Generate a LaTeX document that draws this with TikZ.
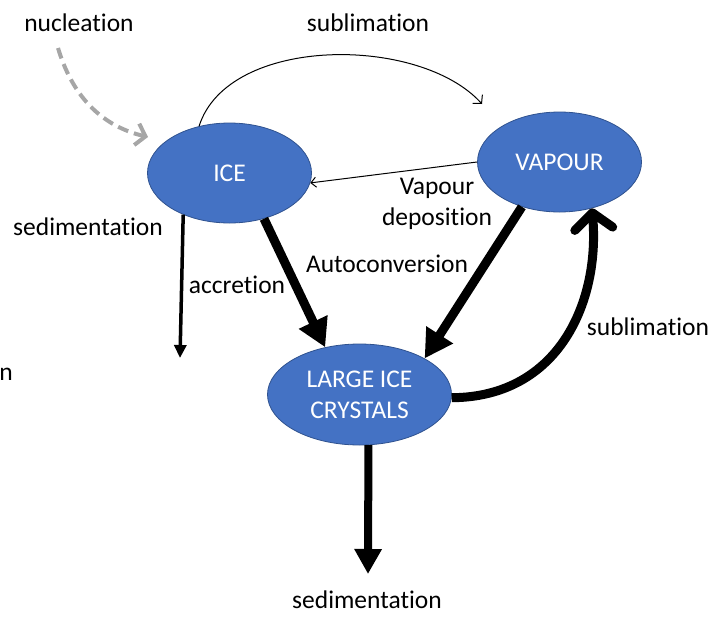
\documentclass[tikz,border=0pt]{standalone}
\usepackage{fontspec}
\setmainfont[RawFeature={-liga;-clig}]{Carlito}
\usetikzlibrary{shapes.geometric,arrows.meta}
\definecolor{nodeblue}{HTML}{4472C4}
\definecolor{nodeedge}{HTML}{2F528F}
\definecolor{dashgray}{HTML}{A6A6A6}
\begin{document}
\begin{tikzpicture}[x=1pt,y=1pt,
  every node/.style={font=\fontsize{25.5}{31}\selectfont},
  blob/.style={ellipse,draw=nodeedge,line width=0.8pt,fill=nodeblue,text=white,inner sep=0pt,align=center},
  lbl/.style={text=black,inner sep=0pt,align=center},
  thickarr/.style={line width=9pt,-{Triangle[length=28pt,width=30pt]}},
  thinarr/.style={line width=1pt,-{Straight Barb[length=6pt,width=13pt]}}
]
\useasboundingbox (0,0) rectangle (714,-616);
% nodes
\node[blob,minimum width=164pt,minimum height=100pt] (ICE) at (229.5,-173) {ICE};
\node[blob,minimum width=164pt,minimum height=100pt] (VAP) at (559.5,-162) {VAPOUR};
\node[blob,minimum width=184pt,minimum height=101pt] (LIC) at (359.5,-394.5) {LARGE ICE\\CRYSTALS};
% labels
\node[lbl] (nuc) at (79,-23) {nucleation};
\node[lbl] (sub1) at (368,-23) {sublimation};
\node[lbl] (vdep) at (437,-204) {Vapour\\deposition};
\node[lbl] (auto) at (387,-264) {Autoconversion};
\node[lbl] (accr) at (237,-285) {accretion};
\node[lbl] (sedL) at (88,-227) {sedimentation};
\node[lbl] (sub2) at (648,-327) {sublimation};
\node[lbl] (sedB) at (367,-600) {sedimentation};
\node[lbl,anchor=base east] (ncut) at (13,-380) {n};
% free ends
\coordinate (nucS) at (58,-48);
\coordinate (nucE) at (148,-137);
\coordinate (subE) at (482,-104);
\coordinate (sedLE) at (180,-358);
\coordinate (sedBE) at (368,-574);
% connectors
\draw[dashgray,line width=4pt,dash pattern=on 11pt off 6pt,-{Straight Barb[length=9pt,width=22pt]}]
  (nucS) .. controls (75,-105) and (110,-128) .. (nucE);
\draw[thinarr] (ICE.123) .. controls (228,-35) and (420,-35) .. (subE);
\draw[line width=1pt,-{Straight Barb[length=5pt,width=10pt]}] (VAP.180) -- (ICE.-7);
\draw[thickarr] (ICE.-53) -- (LIC.126.4);
\draw[thickarr] (VAP.-130) -- (LIC.29);
\draw[line width=9pt,-{Straight Barb[length=16pt,width=38pt,round]}]
  (LIC.-2) .. controls (560,-397) and (600,-300) .. (VAP.-55);
\draw[line width=8pt,-{Triangle[length=25pt,width=26pt]}] (LIC.-80) -- (sedBE);
\draw[line width=3.5pt,-{Triangle[length=13pt,width=12pt]}] (ICE.-138.5) -- (sedLE);
\end{tikzpicture}
\end{document}
